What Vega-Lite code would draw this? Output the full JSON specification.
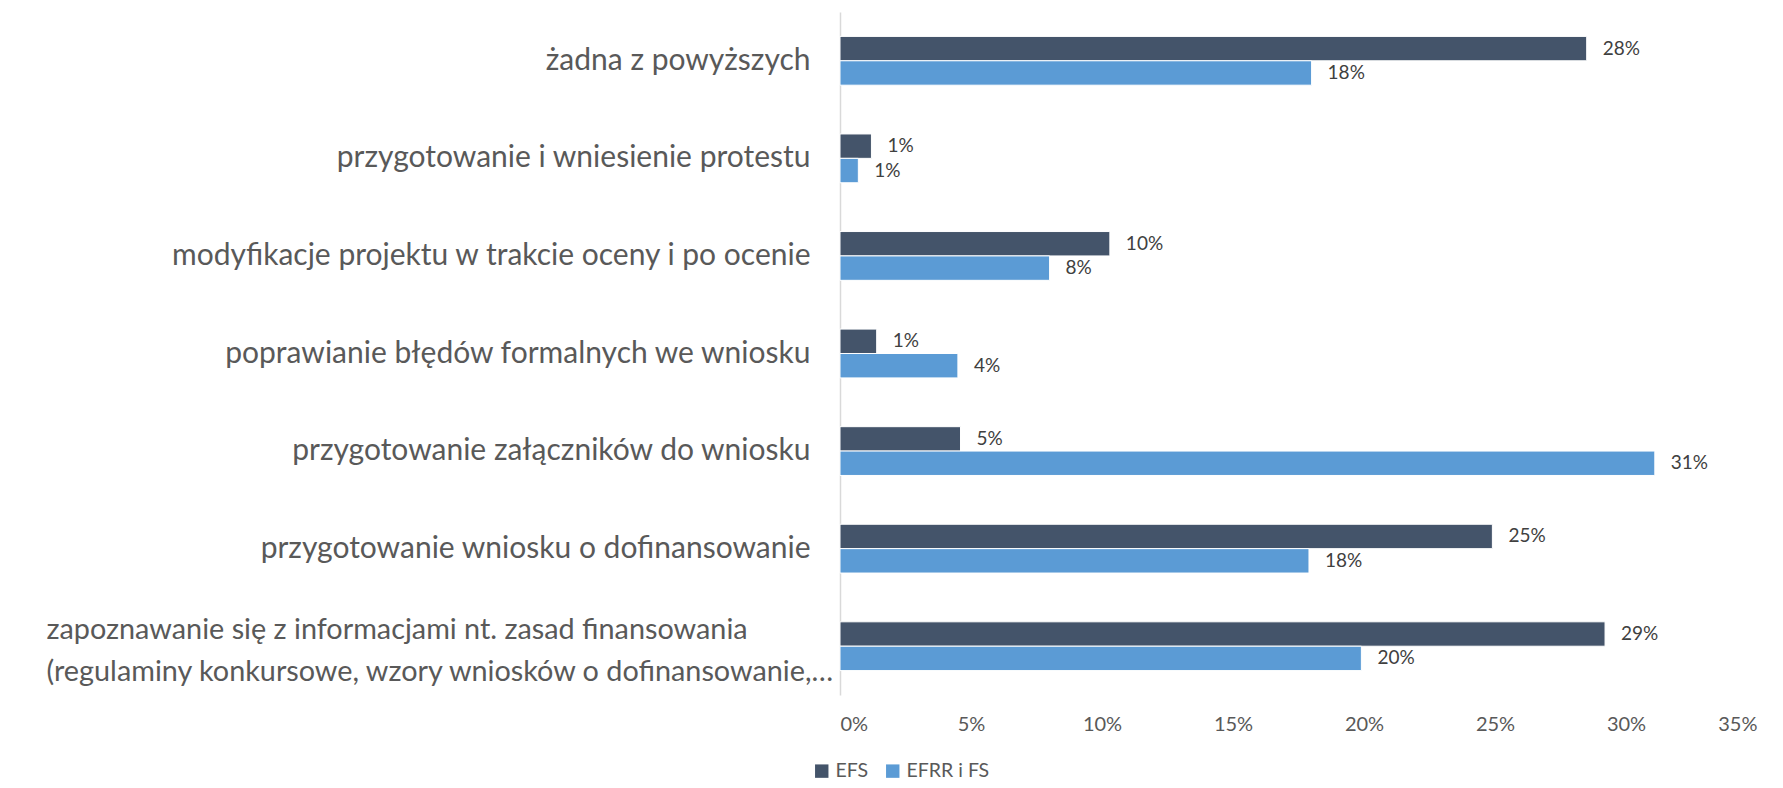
{
  "$schema": "https://vega.github.io/schema/vega-lite/v6.json",
  "width": 917,
  "height": 683,
  "autosize": "none",
  "padding": {"left": 840, "top": 12, "right": 26, "bottom": 93},
  "background": "white",
  "config": {
    "view": {"stroke": null},
    "font": "Lato"
  },
  "data": {
    "values": [
      {"cat": "żadna z powyższych", "series": "EFS", "value": 0.285, "label": "28%"},
      {"cat": "żadna z powyższych", "series": "EFRR i FS", "value": 0.180, "label": "18%"},
      {"cat": "przygotowanie i wniesienie protestu", "series": "EFS", "value": 0.012, "label": "1%"},
      {"cat": "przygotowanie i wniesienie protestu", "series": "EFRR i FS", "value": 0.007, "label": "1%"},
      {"cat": "modyfikacje projektu w trakcie oceny i po ocenie", "series": "EFS", "value": 0.103, "label": "10%"},
      {"cat": "modyfikacje projektu w trakcie oceny i po ocenie", "series": "EFRR i FS", "value": 0.080, "label": "8%"},
      {"cat": "poprawianie błędów formalnych we wniosku", "series": "EFS", "value": 0.014, "label": "1%"},
      {"cat": "poprawianie błędów formalnych we wniosku", "series": "EFRR i FS", "value": 0.045, "label": "4%"},
      {"cat": "przygotowanie załączników do wniosku", "series": "EFS", "value": 0.046, "label": "5%"},
      {"cat": "przygotowanie załączników do wniosku", "series": "EFRR i FS", "value": 0.311, "label": "31%"},
      {"cat": "przygotowanie wniosku o dofinansowanie", "series": "EFS", "value": 0.249, "label": "25%"},
      {"cat": "przygotowanie wniosku o dofinansowanie", "series": "EFRR i FS", "value": 0.179, "label": "18%"},
      {"cat": "zapoznawanie się z informacjami nt. zasad finansowania|(regulaminy konkursowe, wzory wniosków o dofinansowanie,…", "series": "EFS", "value": 0.292, "label": "29%"},
      {"cat": "zapoznawanie się z informacjami nt. zasad finansowania|(regulaminy konkursowe, wzory wniosków o dofinansowanie,…", "series": "EFRR i FS", "value": 0.199, "label": "20%"}
    ]
  },
  "encoding": {
    "y": {
      "field": "cat",
      "type": "nominal",
      "sort": null,
      "title": null,
      "scale": {"paddingInner": 0.5, "paddingOuter": 0.25},
      "axis": {
        "labelExpr": "split(datum.label, '|')",
        "labelFontSize": {"condition": {"test": "indexof(datum.value, '|') >= 0", "value": 28.8}, "value": 30},
        "labelColor": "#595959",
        "labelLimit": 900,
        "labelAlign": {"condition": {"test": "indexof(datum.value, '|') >= 0", "value": "left"}, "value": "right"},
        "labelPadding": {"condition": {"test": "indexof(datum.value, '|') >= 0", "value": 794}, "value": 30},
        "labelOffset": {"condition": {"test": "indexof(datum.value, '|') >= 0", "value": -16}, "value": 0},
        "labelLineHeight": 42,
        "ticks": false,
        "domain": true,
        "domainColor": "#D9D9D9",
        "domainWidth": 1.5,
        "grid": false
      }
    },
    "yOffset": {"field": "series", "type": "nominal", "sort": ["EFS", "EFRR i FS"]},
    "x": {
      "field": "value",
      "type": "quantitative",
      "title": null,
      "scale": {"domain": [0, 0.35], "nice": false},
      "axis": {
        "format": ".0%",
        "values": [0, 0.05, 0.1, 0.15, 0.2, 0.25, 0.3, 0.35],
        "labelFontSize": 20,
        "labelColor": "#595959",
        "labelPadding": 19,
        "ticks": false,
        "domain": false,
        "grid": false
      }
    }
  },
  "layer": [
    {
      "mark": {"type": "bar", "stroke": "white", "strokeWidth": 1},
      "encoding": {
        "color": {
          "field": "series",
          "type": "nominal",
          "sort": ["EFS", "EFRR i FS"],
          "scale": {"domain": ["EFS", "EFRR i FS"], "range": ["#44546A", "#5B9BD5"]},
          "legend": {
            "title": null,
            "orient": "none",
            "direction": "horizontal",
            "legendX": -28,
            "legendY": 749,
            "symbolType": "square",
            "symbolSize": 180,
            "symbolStrokeWidth": 0,
            "labelFontSize": 19.5,
            "labelColor": "#595959",
            "columnPadding": 14,
            "labelOffset": 4
          }
        }
      }
    },
    {
      "mark": {"type": "text", "align": "left", "dx": 16, "fontSize": 19, "color": "#404040"},
      "encoding": {"text": {"field": "label"}}
    }
  ]
}
